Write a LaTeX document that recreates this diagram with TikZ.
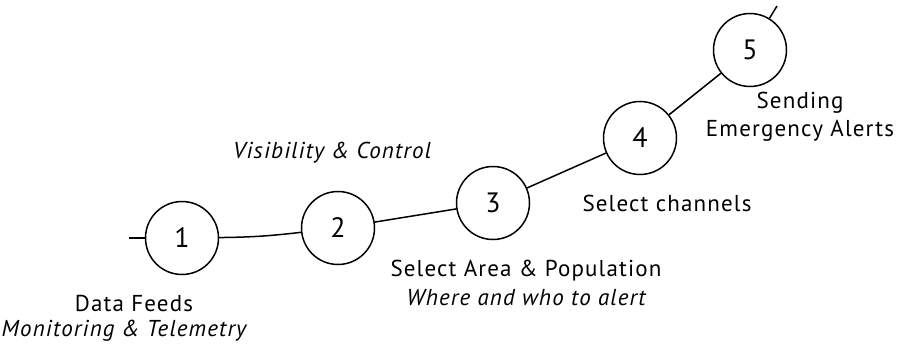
\documentclass[tikz,border=0pt]{standalone}
\usepackage{fontspec}
\setmainfont{PT Sans}
\newfontfamily\lbfont[LetterSpace=5]{PT Sans}
\begin{document}
\begin{tikzpicture}[x=1pt,y=-1pt,
  stepcircle/.style={circle,draw,line width=1.5pt,minimum size=73pt,inner sep=0pt,font=\lbfont\fontsize{28}{30}\selectfont},
  conn/.style={line width=1.5pt},
  lbl/.style={font=\lbfont\fontsize{23}{27}\selectfont,align=center,inner sep=0pt},
  ilbl/.style={font=\lbfont\fontsize{23}{27}\selectfont\itshape,align=center,inner sep=0pt}]
\useasboundingbox (0,0) rectangle (898,356);
\node[stepcircle] (c1) at (182,238) {1};
\node[stepcircle] (c2) at (338,228) {2};
\node[stepcircle] (c3) at (493,203) {3};
\node[stepcircle] (c4) at (640,138) {4};
\node[stepcircle] (c5) at (750,50) {5};
\coordinate (s0) at (129,238);
\coordinate (e0) at (777,6);
\draw[conn] (s0) -- (c1);
\draw[conn] (c1) to[bend right=3] (c2);
\draw[conn] (c2) -- (c3);
\draw[conn] (c3) -- (c4);
\draw[conn] (c4) -- (c5);
\draw[conn] (c5) -- (e0);
\node[lbl] (t1) at (134,303) {Data Feeds};
\node[ilbl] (t1b) at (124,331) {Monitoring \& Telemetry};
\node[ilbl] (t2) at (332,153) {Visibility \& Control};
\node[lbl] (t3) at (526,271) {Select Area \& Population};
\node[ilbl] (t3b) at (526,298) {Where and who to alert};
\node[lbl] (t4) at (667,203) {Select channels};
\node[lbl] (t5) at (800,103) {Sending};
\node[lbl] (t5b) at (800,131) {Emergency Alerts};
\end{tikzpicture}
\end{document}
